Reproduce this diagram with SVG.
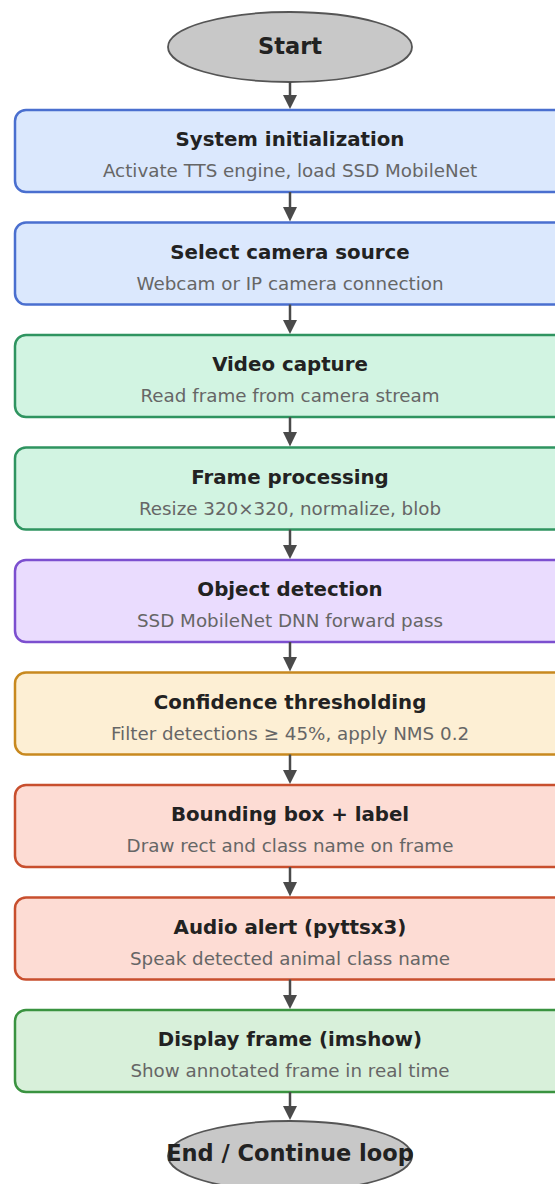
<svg xmlns="http://www.w3.org/2000/svg" width="555" height="1184" viewBox="0 0 555 1184">
<defs>
<style>
.t{font-family:"DejaVu Sans",sans-serif;font-weight:bold;font-size:19.8px;fill:#222;text-anchor:middle}
.e{font-size:22.5px}
.s{font-family:"DejaVu Sans",sans-serif;font-size:18.3px;fill:#666;text-anchor:middle}
.box{stroke-width:2.5}
.blue{fill:#dbe8fd;stroke:#4a6fcf}
.mint{fill:#d2f4e2;stroke:#2f9460}
.purple{fill:#eadcfe;stroke:#7c4fcf}
.orange{fill:#fdefd4;stroke:#c8891f}
.red{fill:#fddcd4;stroke:#c84f2e}
.green{fill:#d8f0da;stroke:#3a9340}
.ell{fill:#c8c8c8;stroke:#555;stroke-width:1.8}
.conn{stroke:#4a4a4a;stroke-width:2.5;fill:none}
.head{fill:#4a4a4a}
</style>
</defs>
<g id="start"><ellipse class="ell" cx="290" cy="47" rx="122" ry="35"/><text class="t e" x="290" y="54">Start</text></g>
<g id="n1"><rect class="box blue" x="15" y="110" width="550" height="82" rx="11"/><text class="t" x="290" y="146">System initialization</text><text class="s" x="290" y="177">Activate TTS engine, load SSD MobileNet</text></g>
<g id="n2"><rect class="box blue" x="15" y="222.5" width="550" height="82" rx="11"/><text class="t" x="290" y="258.5">Select camera source</text><text class="s" x="290" y="289.5">Webcam or IP camera connection</text></g>
<g id="n3"><rect class="box mint" x="15" y="335" width="550" height="82" rx="11"/><text class="t" x="290" y="371">Video capture</text><text class="s" x="290" y="402">Read frame from camera stream</text></g>
<g id="n4"><rect class="box mint" x="15" y="447.5" width="550" height="82" rx="11"/><text class="t" x="290" y="483.5">Frame processing</text><text class="s" x="290" y="514.5">Resize 320×320, normalize, blob</text></g>
<g id="n5"><rect class="box purple" x="15" y="560" width="550" height="82" rx="11"/><text class="t" x="290" y="596">Object detection</text><text class="s" x="290" y="627">SSD MobileNet DNN forward pass</text></g>
<g id="n6"><rect class="box orange" x="15" y="672.5" width="550" height="82" rx="11"/><text class="t" x="290" y="708.5">Confidence thresholding</text><text class="s" x="290" y="739.5">Filter detections ≥ 45%, apply NMS 0.2</text></g>
<g id="n7"><rect class="box red" x="15" y="785" width="550" height="82" rx="11"/><text class="t" x="290" y="821">Bounding box + label</text><text class="s" x="290" y="852">Draw rect and class name on frame</text></g>
<g id="n8"><rect class="box red" x="15" y="897.5" width="550" height="82" rx="11"/><text class="t" x="290" y="933.5">Audio alert (pyttsx3)</text><text class="s" x="290" y="964.5">Speak detected animal class name</text></g>
<g id="n9"><rect class="box green" x="15" y="1010" width="550" height="82" rx="11"/><text class="t" x="290" y="1046">Display frame (imshow)</text><text class="s" x="290" y="1077">Show annotated frame in real time</text></g>
<g id="end"><ellipse class="ell" cx="290" cy="1156" rx="122" ry="35"/><text class="t e" x="290" y="1161">End / Continue loop</text></g>
<g id="connectors">
<line class="conn" x1="290" y1="82" x2="290" y2="96"/><path class="head" d="M283,95 L297,95 L290,109 z"/>
<line class="conn" x1="290" y1="192" x2="290" y2="208"/><path class="head" d="M283,207 L297,207 L290,221.5 z"/>
<line class="conn" x1="290" y1="304.5" x2="290" y2="321"/><path class="head" d="M283,320 L297,320 L290,334 z"/>
<line class="conn" x1="290" y1="417" x2="290" y2="433"/><path class="head" d="M283,432 L297,432 L290,446.5 z"/>
<line class="conn" x1="290" y1="529.5" x2="290" y2="546"/><path class="head" d="M283,545 L297,545 L290,559 z"/>
<line class="conn" x1="290" y1="642" x2="290" y2="658"/><path class="head" d="M283,657 L297,657 L290,671.5 z"/>
<line class="conn" x1="290" y1="754.5" x2="290" y2="771"/><path class="head" d="M283,770 L297,770 L290,784 z"/>
<line class="conn" x1="290" y1="867" x2="290" y2="883"/><path class="head" d="M283,882 L297,882 L290,896.5 z"/>
<line class="conn" x1="290" y1="979.5" x2="290" y2="996"/><path class="head" d="M283,995 L297,995 L290,1009 z"/>
<line class="conn" x1="290" y1="1092" x2="290" y2="1107"/><path class="head" d="M283,1106 L297,1106 L290,1120 z"/>
</g>
</svg>
